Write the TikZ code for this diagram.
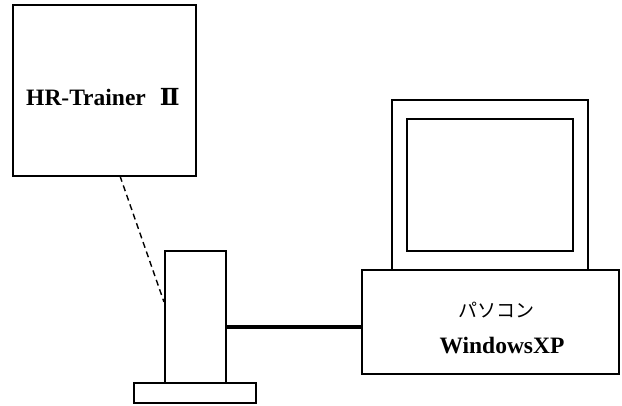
\documentclass[tikz,border=0pt]{standalone}
\usepackage{fontspec}
\setmainfont{Liberation Serif}
\newfontfamily\jpfont{Noto Sans CJK JP}
\newfontfamily\numfont{DejaVu Serif}
\begin{document}
\begin{tikzpicture}[x=1pt,y=-1pt,
  edge/.style={line width=1.5pt},
  lbl/.style={font=\bfseries\fontsize{23.5}{26}\selectfont},
  jlbl/.style={font=\jpfont\fontsize{19}{22}\selectfont}]
  \useasboundingbox (0,0) rectangle (622,405);
  % trainer unit
  \draw[edge] (13,5) rectangle (196,176);
  \node[lbl] (hr) at (103,97) {HR-Trainer\hspace{0.6em}{\numfont Ⅱ}};
  \coordinate (hrb) at (120,176);
  % receiver tower with its foot
  \draw[edge] (165,251) rectangle (226,383);
  \draw[edge] (134,383) rectangle (256,403);
  \coordinate (rxl) at (164,302);
  \coordinate (rxr) at (226,327);
  % personal computer
  \draw[edge] (392,100) rectangle (588,270);
  \draw[edge] (407,119) rectangle (573,251);
  \draw[edge] (362,270) rectangle (619,374);
  \coordinate (pcl) at (362,327);
  \node[jlbl] (pc) at (496,310) {パソコン};
  \node[lbl] (os) at (502,346) {WindowsXP};
  % links
  \draw[line width=1.4pt,dash pattern=on 6pt off 4pt] (hrb) -- (rxl);
  \draw[line width=3.5pt] (rxr) -- (pcl);
\end{tikzpicture}
\end{document}
